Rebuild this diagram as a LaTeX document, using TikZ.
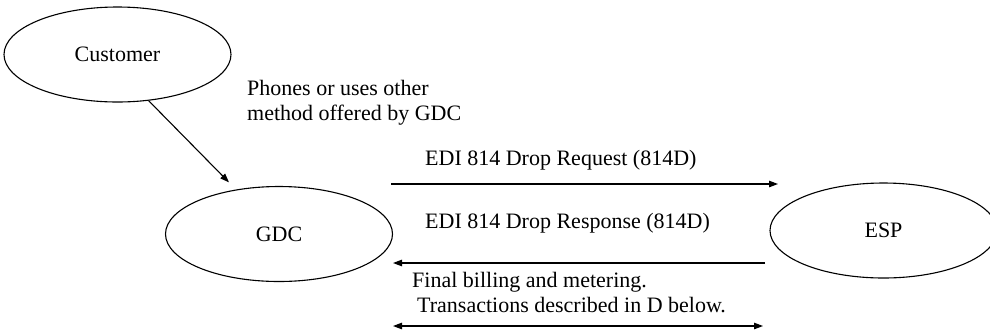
\documentclass[tikz,border=0pt]{standalone}
\usepackage{fontspec}
\setmainfont{Liberation Serif}
\usetikzlibrary{shapes.geometric,arrows.meta}

\begin{document}
\begin{tikzpicture}[x=1pt,y=-1pt,
  party/.style={ellipse,draw,line width=1.1pt,inner sep=0pt,
    minimum width=227pt,minimum height=95pt,
    font=\fontsize{22}{25}\selectfont},
  flow/.style={line width=1.1pt,-{Triangle[length=9pt,width=6.5pt]}},
  twoway/.style={line width=1.1pt,{Triangle[length=9pt,width=6.5pt]}-{Triangle[length=9pt,width=6.5pt]}},
  note/.style={anchor=base west,inner sep=0pt,font=\fontsize{22}{25}\selectfont,align=left}]
  \useasboundingbox (0,0) rectangle (990,333);

  % parties
  \node[party] (cust) at (117.5,54.5) {Customer};
  \node[party] (gdc)  at (279,234)    {GDC};
  \node[party] (esp)  at (883.5,230.5) {ESP};

  % customer contacts the GDC (base anchor sits on the last line)
  \draw[flow,shorten >=10pt] (cust.-56) -- (gdc.134);
  \node[note] (phones) at (247,120) {Phones or uses other\\method offered by GDC};

  % EDI 814 exchange
  \coordinate (reqA) at (391,184);
  \coordinate (reqB) at (778,184);
  \draw[flow] (reqA) -- (reqB);
  \node[note] (reqtxt) at (425,165) {EDI 814 Drop Request (814D)};

  \coordinate (rspA) at (765,263);
  \coordinate (rspB) at (393,263);
  \draw[flow] (rspA) -- (rspB);
  \node[note] (rsptxt) at (425,228) {EDI 814 Drop Response (814D)};

  % final billing and metering
  \node[note] (bill1) at (412,287) {Final billing and metering.};
  \node[note] (bill2) at (417,312) {Transactions described in D below.};
  \coordinate (finA) at (393,326);
  \coordinate (finB) at (763,326);
  \draw[twoway] (finA) -- (finB);
\end{tikzpicture}
\end{document}
